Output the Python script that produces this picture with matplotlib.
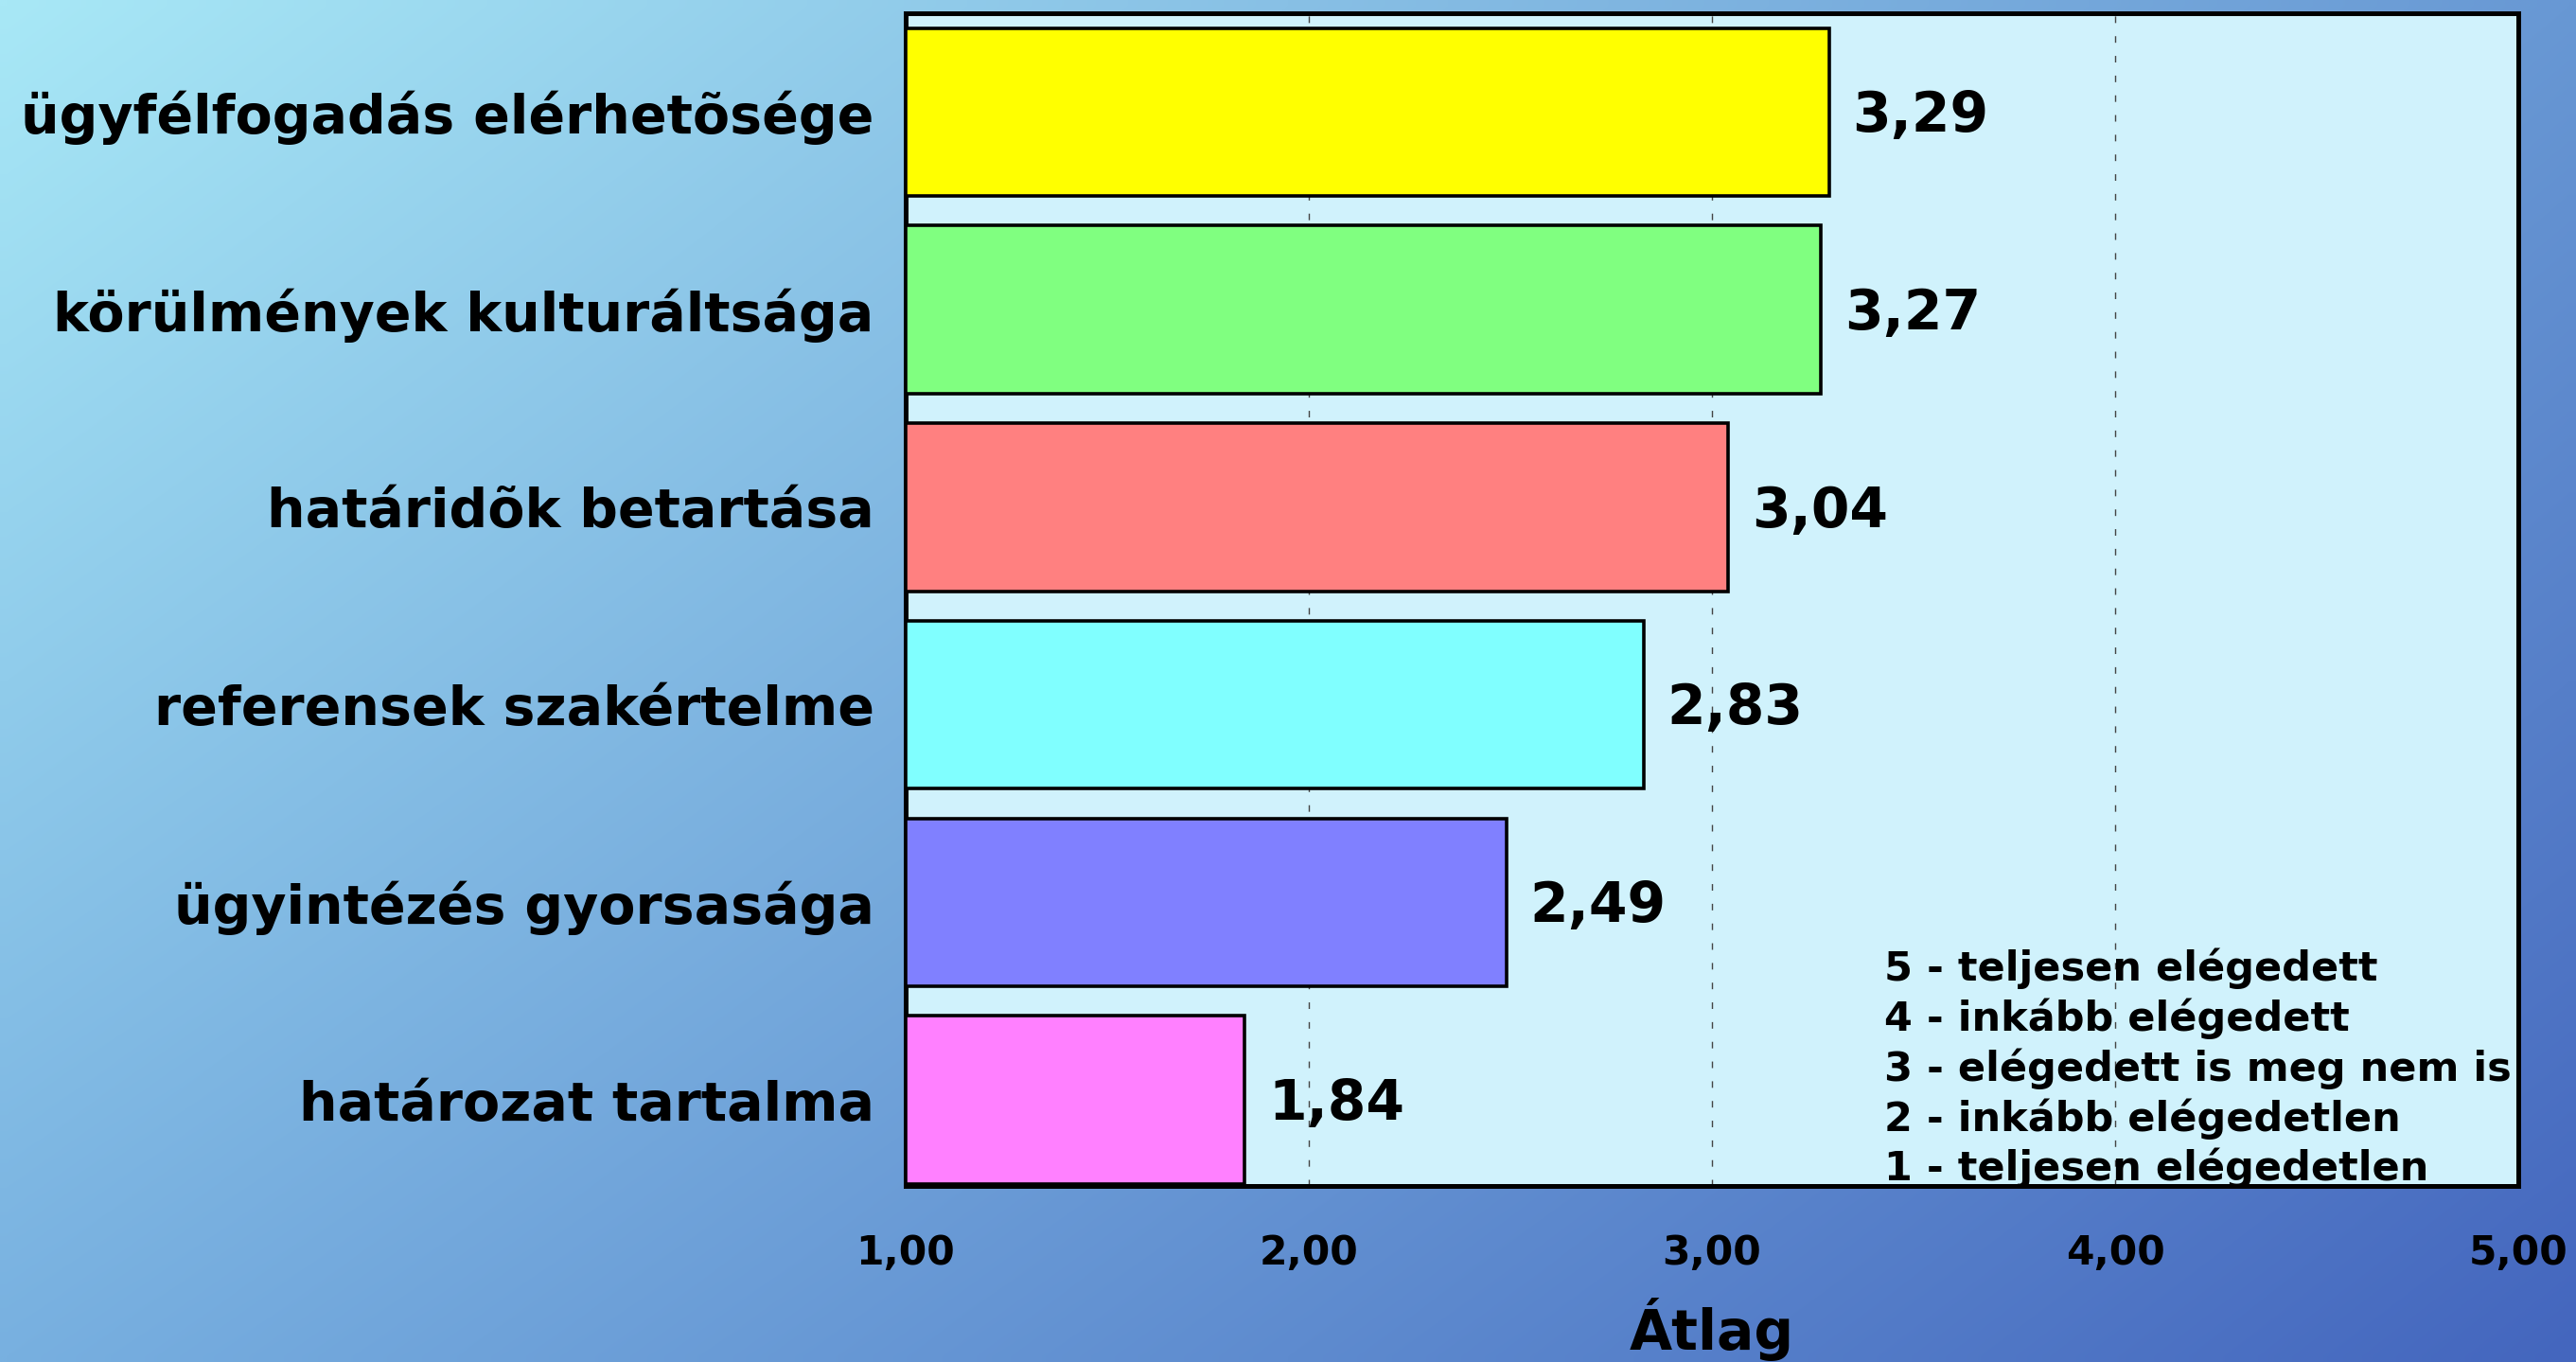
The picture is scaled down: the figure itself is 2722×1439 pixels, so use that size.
import numpy as np
import matplotlib.pyplot as plt
from matplotlib.colors import to_rgb

categories = ["ügyfélfogadás elérhetõsége", "körülmények kulturáltsága",
              "határidõk betartása", "referensek szakértelme",
              "ügyintézés gyorsasága", "határozat tartalma"]
values = [3.29, 3.27, 3.04, 2.83, 2.49, 1.84]
colors = ["#ffff00", "#80ff80", "#ff8080", "#80ffff", "#8080ff", "#ff80ff"]
xticks = [1, 2, 3, 4, 5]
xticklabels = ["1,00", "2,00", "3,00", "4,00", "5,00"]
scale_text = ["5 - teljesen elégedett", "4 - inkább elégedett",
              "3 - elégedett is meg nem is", "2 - inkább elégedetlen",
              "1 - teljesen elégedetlen"]

plt.rcParams['font.family'] = ['DejaVu Sans']
plt.rcParams['font.weight'] = 'bold'

fig = plt.figure(figsize=(27.22, 14.39), dpi=100)

# background gradient
bg = fig.add_axes([0, 0, 1, 1], zorder=-10)
tl, tr = np.array(to_rgb("#a8e8f6")), np.array(to_rgb("#6898d4"))
bl, br = np.array(to_rgb("#78b0e0")), np.array(to_rgb("#4466be"))
u = np.linspace(0, 1, 200)[None, :, None]
v = np.linspace(0, 1, 120)[:, None, None]
img = (1 - v) * ((1 - u) * tl + u * tr) + v * ((1 - u) * bl + u * br)
bg.imshow(img, aspect='auto', extent=[0, 1, 0, 1], interpolation='bilinear')
bg.axis('off')

ax = fig.add_axes([0.3516, 0.1293, 0.626, 0.861])
ax.set_facecolor("#d0f2fc")

y = np.arange(len(categories))[::-1]
ax.barh(y, np.array(values) - 1, left=1, height=0.85, color=colors,
        edgecolor='black', linewidth=2.6, zorder=3)
for yi, v_ in zip(y, values):
    ax.annotate(f"{v_:.2f}".replace('.', ','), (v_, yi), xytext=(18, -3),
                textcoords='offset points', va='center', ha='left',
                fontsize=42, fontweight='bold', zorder=4)

ax.set_xlim(1, 5)
ax.set_ylim(-0.435, 5.5)
ax.set_xticks(xticks)
ax.set_xticklabels(xticklabels, fontsize=30.5, fontweight='bold')
ax.set_yticks(y)
ax.set_yticklabels(categories, fontsize=41, fontweight='bold')
ax.tick_params(axis='x', length=0, pad=36)
ax.tick_params(axis='y', length=0, pad=24)
ax.grid(axis='x', color='#444444', linestyle=(0, (5, 10)), linewidth=1.0, zorder=1)
for s in ax.spines.values():
    s.set_linewidth(3.6)
    s.set_color('black')
ax.set_xlabel("Átlag", fontsize=42, fontweight='bold', labelpad=19)

ax.text(0.607, 0.100, "\n".join(scale_text), transform=ax.transAxes,
        fontsize=31, fontweight='bold', va='center', ha='left',
        linespacing=1.27, zorder=5)

fig.savefig("out.png", dpi=100)
